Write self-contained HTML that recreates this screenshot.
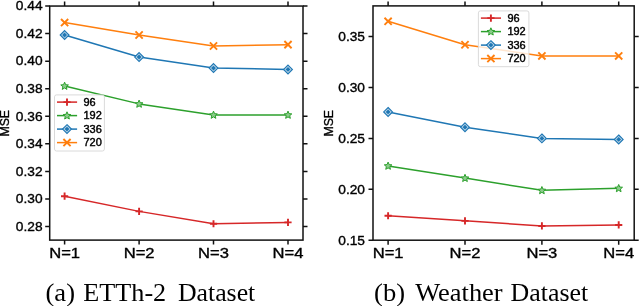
<!DOCTYPE html>
<html><head><meta charset="utf-8"><style>
html,body{margin:0;padding:0;background:#fff;width:640px;height:306px;overflow:hidden}
svg{display:block;will-change:transform}
text{font-family:"Liberation Sans",sans-serif;fill:#000;stroke:#000;stroke-width:0.35px}
text.cap{font-family:"Liberation Serif",serif;stroke-width:0}
</style></head><body>
<svg width="640" height="306" viewBox="0 0 640 306">
<rect width="640" height="306" fill="#fff"/>
<path d="M64.60 196.21 L139.10 211.37 L213.50 223.77 L288.00 222.40" stroke="#d62728" stroke-width="1.5" fill="none" stroke-linejoin="round"/>
<path d="M61.00 196.21H68.20M64.60 192.61V199.81" stroke="#d62728" stroke-width="1.9" fill="none"/>
<path d="M135.50 211.37H142.70M139.10 207.77V214.97" stroke="#d62728" stroke-width="1.9" fill="none"/>
<path d="M209.90 223.77H217.10M213.50 220.17V227.37" stroke="#d62728" stroke-width="1.9" fill="none"/>
<path d="M284.40 222.40H291.60M288.00 218.80V226.00" stroke="#d62728" stroke-width="1.9" fill="none"/>
<path d="M64.60 85.97 L139.10 103.89 L213.50 114.91 L288.00 114.91" stroke="#2ca02c" stroke-width="1.5" fill="none" stroke-linejoin="round"/>
<polygon points="64.60,82.17 65.66,84.72 68.40,84.94 66.31,86.73 66.95,89.41 64.60,87.97 62.25,89.41 62.89,86.73 60.80,84.94 63.54,84.72" fill="#8ccc8c" stroke="#2ca02c" stroke-width="1.0" stroke-linejoin="miter"/>
<polygon points="139.10,100.09 140.16,102.63 142.90,102.85 140.81,104.64 141.45,107.32 139.10,105.89 136.75,107.32 137.39,104.64 135.30,102.85 138.04,102.63" fill="#8ccc8c" stroke="#2ca02c" stroke-width="1.0" stroke-linejoin="miter"/>
<polygon points="213.50,111.11 214.56,113.66 217.30,113.88 215.21,115.67 215.85,118.35 213.50,116.91 211.15,118.35 211.79,115.67 209.70,113.88 212.44,113.66" fill="#8ccc8c" stroke="#2ca02c" stroke-width="1.0" stroke-linejoin="miter"/>
<polygon points="288.00,111.11 289.06,113.66 291.80,113.88 289.71,115.67 290.35,118.35 288.00,116.91 285.65,118.35 286.29,115.67 284.20,113.88 286.94,113.66" fill="#8ccc8c" stroke="#2ca02c" stroke-width="1.0" stroke-linejoin="miter"/>
<path d="M64.60 34.99 L139.10 57.04 L213.50 68.06 L288.00 69.44" stroke="#1f77b4" stroke-width="1.5" fill="none" stroke-linejoin="round"/>
<path d="M64.60 30.59L69.00 34.99L64.60 39.39L60.20 34.99Z" fill="#bcd6e8" stroke="#1f77b4" stroke-width="1.15"/><path d="M64.60 32.57L67.02 34.99L64.60 37.41L62.18 34.99Z" fill="#1f77b4"/>
<path d="M139.10 52.64L143.50 57.04L139.10 61.44L134.70 57.04Z" fill="#bcd6e8" stroke="#1f77b4" stroke-width="1.15"/><path d="M139.10 54.62L141.52 57.04L139.10 59.46L136.68 57.04Z" fill="#1f77b4"/>
<path d="M213.50 63.66L217.90 68.06L213.50 72.46L209.10 68.06Z" fill="#bcd6e8" stroke="#1f77b4" stroke-width="1.15"/><path d="M213.50 65.64L215.92 68.06L213.50 70.48L211.08 68.06Z" fill="#1f77b4"/>
<path d="M288.00 65.04L292.40 69.44L288.00 73.84L283.60 69.44Z" fill="#bcd6e8" stroke="#1f77b4" stroke-width="1.15"/><path d="M288.00 67.02L290.42 69.44L288.00 71.86L285.58 69.44Z" fill="#1f77b4"/>
<path d="M64.60 22.59 L139.10 34.99 L213.50 46.01 L288.00 44.63" stroke="#ff7f0e" stroke-width="1.5" fill="none" stroke-linejoin="round"/>
<path d="M61.00 18.99L68.20 26.19M61.00 26.19L68.20 18.99" stroke="#ff7f0e" stroke-width="1.9" fill="none"/>
<path d="M135.50 31.39L142.70 38.59M135.50 38.59L142.70 31.39" stroke="#ff7f0e" stroke-width="1.9" fill="none"/>
<path d="M209.90 42.41L217.10 49.61M209.90 49.61L217.10 42.41" stroke="#ff7f0e" stroke-width="1.9" fill="none"/>
<path d="M284.40 41.03L291.60 48.23M284.40 48.23L291.60 41.03" stroke="#ff7f0e" stroke-width="1.9" fill="none"/>
<rect x="54.50" y="94.90" width="49.90" height="56.10" rx="2" ry="2" fill="#fff" fill-opacity="0.8" stroke="#d6d6d6" stroke-width="0.9"/>
<path d="M57.00 102.10H77.10" stroke="#d62728" stroke-width="1.5"/>
<path d="M63.40 102.10H70.60M67.00 98.50V105.70" stroke="#d62728" stroke-width="1.9" fill="none"/>
<text x="83.50" y="105.70" font-size="10.25" textLength="12.21" lengthAdjust="spacingAndGlyphs" style="stroke-width:0.4px">96</text>
<path d="M57.00 115.60H77.10" stroke="#2ca02c" stroke-width="1.5"/>
<polygon points="67.00,111.80 68.06,114.34 70.80,114.56 68.71,116.36 69.35,119.04 67.00,117.60 64.65,119.04 65.29,116.36 63.20,114.56 65.94,114.34" fill="#8ccc8c" stroke="#2ca02c" stroke-width="1.0" stroke-linejoin="miter"/>
<text x="83.50" y="119.20" font-size="10.25" textLength="18.33" lengthAdjust="spacingAndGlyphs" style="stroke-width:0.4px">192</text>
<path d="M57.00 129.10H77.10" stroke="#1f77b4" stroke-width="1.5"/>
<path d="M67.00 124.70L71.40 129.10L67.00 133.50L62.60 129.10Z" fill="#bcd6e8" stroke="#1f77b4" stroke-width="1.15"/><path d="M67.00 126.68L69.42 129.10L67.00 131.52L64.58 129.10Z" fill="#1f77b4"/>
<text x="83.50" y="132.70" font-size="10.25" textLength="18.33" lengthAdjust="spacingAndGlyphs" style="stroke-width:0.4px">336</text>
<path d="M57.00 142.60H77.10" stroke="#ff7f0e" stroke-width="1.5"/>
<path d="M63.40 139.00L70.60 146.20M63.40 146.20L70.60 139.00" stroke="#ff7f0e" stroke-width="1.9" fill="none"/>
<text x="83.50" y="146.20" font-size="10.25" textLength="18.33" lengthAdjust="spacingAndGlyphs" style="stroke-width:0.4px">720</text>
<rect x="49.70" y="6.05" width="253.30" height="234.05" fill="none" stroke="#111" stroke-width="1.5"/>
<path d="M64.60 240.10V244.60M64.60 6.05V1.55M139.10 240.10V244.60M139.10 6.05V1.55M213.50 240.10V244.60M213.50 6.05V1.55M288.00 240.10V244.60M288.00 6.05V1.55M49.70 226.53H45.20M303.00 226.53H307.50M49.70 198.97H45.20M303.00 198.97H307.50M49.70 171.41H45.20M303.00 171.41H307.50M49.70 143.85H45.20M303.00 143.85H307.50M49.70 116.29H45.20M303.00 116.29H307.50M49.70 88.73H45.20M303.00 88.73H307.50M49.70 61.17H45.20M303.00 61.17H307.50M49.70 33.61H45.20M303.00 33.61H307.50M49.70 6.05H45.20M303.00 6.05H307.50" stroke="#111" stroke-width="1.5" fill="none"/>
<text x="42.60" y="230.83" text-anchor="end" font-size="12.82" textLength="26.72" lengthAdjust="spacingAndGlyphs">0.28</text>
<text x="42.60" y="203.27" text-anchor="end" font-size="12.82" textLength="26.72" lengthAdjust="spacingAndGlyphs">0.30</text>
<text x="42.60" y="175.71" text-anchor="end" font-size="12.82" textLength="26.72" lengthAdjust="spacingAndGlyphs">0.32</text>
<text x="42.60" y="148.15" text-anchor="end" font-size="12.82" textLength="26.72" lengthAdjust="spacingAndGlyphs">0.34</text>
<text x="42.60" y="120.59" text-anchor="end" font-size="12.82" textLength="26.72" lengthAdjust="spacingAndGlyphs">0.36</text>
<text x="42.60" y="93.03" text-anchor="end" font-size="12.82" textLength="26.72" lengthAdjust="spacingAndGlyphs">0.38</text>
<text x="42.60" y="65.47" text-anchor="end" font-size="12.82" textLength="26.72" lengthAdjust="spacingAndGlyphs">0.40</text>
<text x="42.60" y="37.91" text-anchor="end" font-size="12.82" textLength="26.72" lengthAdjust="spacingAndGlyphs">0.42</text>
<text x="42.60" y="10.35" text-anchor="end" font-size="12.82" textLength="26.72" lengthAdjust="spacingAndGlyphs">0.44</text>
<text x="49.16" y="258.00" font-size="14.42" textLength="30.89" lengthAdjust="spacingAndGlyphs">N=1</text>
<text x="123.66" y="258.00" font-size="14.42" textLength="30.89" lengthAdjust="spacingAndGlyphs">N=2</text>
<text x="198.06" y="258.00" font-size="14.42" textLength="30.89" lengthAdjust="spacingAndGlyphs">N=3</text>
<text x="272.56" y="258.00" font-size="14.42" textLength="30.89" lengthAdjust="spacingAndGlyphs">N=4</text>
<text transform="translate(9.40 123.30) rotate(-90)" x="-13.31" y="0" font-size="12.82" textLength="26.61" lengthAdjust="spacingAndGlyphs">MSE</text>
<path d="M388.10 215.77 L465.00 220.86 L541.90 225.95 L618.70 224.93" stroke="#d62728" stroke-width="1.5" fill="none" stroke-linejoin="round"/>
<path d="M384.50 215.77H391.70M388.10 212.17V219.37" stroke="#d62728" stroke-width="1.9" fill="none"/>
<path d="M461.40 220.86H468.60M465.00 217.26V224.46" stroke="#d62728" stroke-width="1.9" fill="none"/>
<path d="M538.30 225.95H545.50M541.90 222.35V229.55" stroke="#d62728" stroke-width="1.9" fill="none"/>
<path d="M615.10 224.93H622.30M618.70 221.33V228.53" stroke="#d62728" stroke-width="1.9" fill="none"/>
<path d="M388.10 165.89 L465.00 178.10 L541.90 190.32 L618.70 188.28" stroke="#2ca02c" stroke-width="1.5" fill="none" stroke-linejoin="round"/>
<polygon points="388.10,162.09 389.16,164.63 391.90,164.85 389.81,166.64 390.45,169.32 388.10,167.89 385.75,169.32 386.39,166.64 384.30,164.85 387.04,164.63" fill="#8ccc8c" stroke="#2ca02c" stroke-width="1.0" stroke-linejoin="miter"/>
<polygon points="465.00,174.30 466.06,176.85 468.80,177.07 466.71,178.86 467.35,181.54 465.00,180.10 462.65,181.54 463.29,178.86 461.20,177.07 463.94,176.85" fill="#8ccc8c" stroke="#2ca02c" stroke-width="1.0" stroke-linejoin="miter"/>
<polygon points="541.90,186.52 542.96,189.06 545.70,189.28 543.61,191.07 544.25,193.75 541.90,192.32 539.55,193.75 540.19,191.07 538.10,189.28 540.84,189.06" fill="#8ccc8c" stroke="#2ca02c" stroke-width="1.0" stroke-linejoin="miter"/>
<polygon points="618.70,184.48 619.76,187.03 622.50,187.25 620.41,189.04 621.05,191.72 618.70,190.28 616.35,191.72 616.99,189.04 614.90,187.25 617.64,187.03" fill="#8ccc8c" stroke="#2ca02c" stroke-width="1.0" stroke-linejoin="miter"/>
<path d="M388.10 111.93 L465.00 127.20 L541.90 138.40 L618.70 139.42" stroke="#1f77b4" stroke-width="1.5" fill="none" stroke-linejoin="round"/>
<path d="M388.10 107.53L392.50 111.93L388.10 116.33L383.70 111.93Z" fill="#bcd6e8" stroke="#1f77b4" stroke-width="1.15"/><path d="M388.10 109.51L390.52 111.93L388.10 114.35L385.68 111.93Z" fill="#1f77b4"/>
<path d="M465.00 122.80L469.40 127.20L465.00 131.60L460.60 127.20Z" fill="#bcd6e8" stroke="#1f77b4" stroke-width="1.15"/><path d="M465.00 124.78L467.42 127.20L465.00 129.62L462.58 127.20Z" fill="#1f77b4"/>
<path d="M541.90 134.00L546.30 138.40L541.90 142.80L537.50 138.40Z" fill="#bcd6e8" stroke="#1f77b4" stroke-width="1.15"/><path d="M541.90 135.98L544.32 138.40L541.90 140.82L539.48 138.40Z" fill="#1f77b4"/>
<path d="M618.70 135.02L623.10 139.42L618.70 143.82L614.30 139.42Z" fill="#bcd6e8" stroke="#1f77b4" stroke-width="1.15"/><path d="M618.70 137.00L621.12 139.42L618.70 141.84L616.28 139.42Z" fill="#1f77b4"/>
<path d="M388.10 21.33 L465.00 44.74 L541.90 55.94 L618.70 55.94" stroke="#ff7f0e" stroke-width="1.5" fill="none" stroke-linejoin="round"/>
<path d="M384.50 17.73L391.70 24.93M384.50 24.93L391.70 17.73" stroke="#ff7f0e" stroke-width="1.9" fill="none"/>
<path d="M461.40 41.14L468.60 48.34M461.40 48.34L468.60 41.14" stroke="#ff7f0e" stroke-width="1.9" fill="none"/>
<path d="M538.30 52.34L545.50 59.54M538.30 59.54L545.50 52.34" stroke="#ff7f0e" stroke-width="1.9" fill="none"/>
<path d="M615.10 52.34L622.30 59.54M615.10 59.54L622.30 52.34" stroke="#ff7f0e" stroke-width="1.9" fill="none"/>
<rect x="478.40" y="10.90" width="50.50" height="55.80" rx="2" ry="2" fill="#fff" fill-opacity="0.8" stroke="#d6d6d6" stroke-width="0.9"/>
<path d="M480.90 18.10H501.00" stroke="#d62728" stroke-width="1.5"/>
<path d="M487.30 18.10H494.50M490.90 14.50V21.70" stroke="#d62728" stroke-width="1.9" fill="none"/>
<text x="507.40" y="21.70" font-size="10.25" textLength="12.21" lengthAdjust="spacingAndGlyphs" style="stroke-width:0.4px">96</text>
<path d="M480.90 31.60H501.00" stroke="#2ca02c" stroke-width="1.5"/>
<polygon points="490.90,27.80 491.96,30.34 494.70,30.56 492.61,32.36 493.25,35.04 490.90,33.60 488.55,35.04 489.19,32.36 487.10,30.56 489.84,30.34" fill="#8ccc8c" stroke="#2ca02c" stroke-width="1.0" stroke-linejoin="miter"/>
<text x="507.40" y="35.20" font-size="10.25" textLength="18.33" lengthAdjust="spacingAndGlyphs" style="stroke-width:0.4px">192</text>
<path d="M480.90 45.10H501.00" stroke="#1f77b4" stroke-width="1.5"/>
<path d="M490.90 40.70L495.30 45.10L490.90 49.50L486.50 45.10Z" fill="#bcd6e8" stroke="#1f77b4" stroke-width="1.15"/><path d="M490.90 42.68L493.32 45.10L490.90 47.52L488.48 45.10Z" fill="#1f77b4"/>
<text x="507.40" y="48.70" font-size="10.25" textLength="18.33" lengthAdjust="spacingAndGlyphs" style="stroke-width:0.4px">336</text>
<path d="M480.90 58.60H501.00" stroke="#ff7f0e" stroke-width="1.5"/>
<path d="M487.30 55.00L494.50 62.20M487.30 62.20L494.50 55.00" stroke="#ff7f0e" stroke-width="1.9" fill="none"/>
<text x="507.40" y="62.20" font-size="10.25" textLength="18.33" lengthAdjust="spacingAndGlyphs" style="stroke-width:0.4px">720</text>
<rect x="373.00" y="5.90" width="261.20" height="234.30" fill="none" stroke="#111" stroke-width="1.5"/>
<path d="M388.10 240.20V244.70M388.10 5.90V1.40M465.00 240.20V244.70M465.00 5.90V1.40M541.90 240.20V244.70M541.90 5.90V1.40M618.70 240.20V244.70M618.70 5.90V1.40M373.00 240.20H368.50M634.20 240.20H638.70M373.00 189.30H368.50M634.20 189.30H638.70M373.00 138.40H368.50M634.20 138.40H638.70M373.00 87.50H368.50M634.20 87.50H638.70M373.00 36.60H368.50M634.20 36.60H638.70" stroke="#111" stroke-width="1.5" fill="none"/>
<text x="365.00" y="244.50" text-anchor="end" font-size="12.82" textLength="26.72" lengthAdjust="spacingAndGlyphs">0.15</text>
<text x="365.00" y="193.60" text-anchor="end" font-size="12.82" textLength="26.72" lengthAdjust="spacingAndGlyphs">0.20</text>
<text x="365.00" y="142.70" text-anchor="end" font-size="12.82" textLength="26.72" lengthAdjust="spacingAndGlyphs">0.25</text>
<text x="365.00" y="91.80" text-anchor="end" font-size="12.82" textLength="26.72" lengthAdjust="spacingAndGlyphs">0.30</text>
<text x="365.00" y="40.90" text-anchor="end" font-size="12.82" textLength="26.72" lengthAdjust="spacingAndGlyphs">0.35</text>
<text x="372.66" y="258.00" font-size="14.42" textLength="30.89" lengthAdjust="spacingAndGlyphs">N=1</text>
<text x="449.56" y="258.00" font-size="14.42" textLength="30.89" lengthAdjust="spacingAndGlyphs">N=2</text>
<text x="526.46" y="258.00" font-size="14.42" textLength="30.89" lengthAdjust="spacingAndGlyphs">N=3</text>
<text x="603.26" y="258.00" font-size="14.42" textLength="30.89" lengthAdjust="spacingAndGlyphs">N=4</text>
<text transform="translate(332.50 123.30) rotate(-90)" x="-13.31" y="0" font-size="12.82" textLength="26.61" lengthAdjust="spacingAndGlyphs">MSE</text>
<text class="cap" x="45.5" y="300.9" font-size="25.8" textLength="29.50" lengthAdjust="spacingAndGlyphs">(a)</text>
<text class="cap" x="83.3" y="300.9" font-size="25.8" textLength="82.91" lengthAdjust="spacingAndGlyphs">ETTh-2</text>
<text class="cap" x="177.9" y="300.9" font-size="25.8" textLength="77.37" lengthAdjust="spacingAndGlyphs">Dataset</text>
<text class="cap" x="374.1" y="300.9" font-size="25.8" textLength="30.99" lengthAdjust="spacingAndGlyphs">(b)</text>
<text class="cap" x="415.3" y="300.9" font-size="25.8" textLength="87.36" lengthAdjust="spacingAndGlyphs">Weather</text>
<text class="cap" x="510.6" y="300.9" font-size="25.8" textLength="77.61" lengthAdjust="spacingAndGlyphs">Dataset</text>
</svg>
</body></html>
